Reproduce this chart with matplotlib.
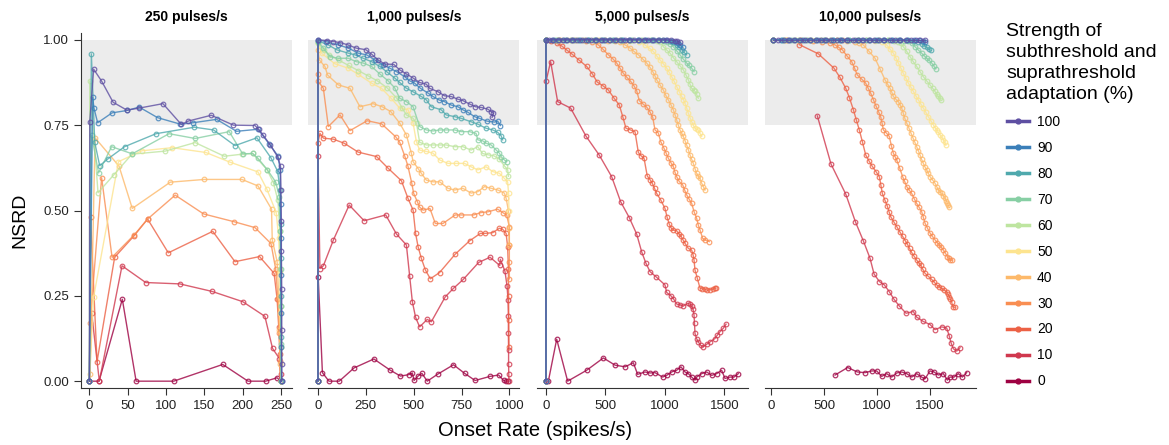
import matplotlib
matplotlib.use("Agg")
import matplotlib.pyplot as plt
from matplotlib.lines import Line2D

plt.rcParams['font.family'] = ['Liberation Sans', 'DejaVu Sans']

levels = [100, 90, 80, 70, 60, 50, 40, 30, 20, 10, 0]
level_colors = ['#5e4fa2', '#3b7fb9', '#4fa9ad', '#87cfa4', '#bee5a0', '#fde48f',
                '#fdb96a', '#f98e52', '#ec6145', '#d0384e', '#9e0142']
panel_titles = ["250 pulses/s", "1,000 pulses/s", "5,000 pulses/s", "10,000 pulses/s"]
panel_xticks = [[0, 50, 100, 150, 200, 250], [0, 250, 500, 750, 1000],
                [0, 500, 1000, 1500], [0, 500, 1000, 1500]]

# ---- 250 pulses/s : (onset rate, NSRD)
r250_100 = [(0, 0), (0.5, 0.76), (5.6, 0.914), (16, 0.879), (31, 0.817), (49, 0.794), (65, 0.80), (96, 0.813),
            (120, 0.752), (129, 0.762), (159, 0.779), (188, 0.75), (216, 0.749), (221, 0.738), (227, 0.72),
            (236, 0.692), (245.5, 0.658), (249.4, 0.631), (250, 0.56), (250.5, 0.47), (250.5, 0.38),
            (251, 0.27), (251, 0.15), (251, 0.05), (251, 0.0)]
r250_90 = [(0, 0), (4.3, 0.832), (6, 0.80), (10.8, 0.757), (29.6, 0.786), (49, 0.793), (65, 0.803), (89, 0.772),
           (118.6, 0.753), (135, 0.757), (166, 0.767), (192, 0.732), (220, 0.738), (235, 0.694), (246, 0.66),
           (249, 0.619), (249.5, 0.52), (250, 0.42), (250, 0.31), (250.5, 0.2), (250.5, 0.1), (251, 0.0)]
r250_80 = [(0, 0), (2.6, 0.959), (7, 0.70), (13.5, 0.631), (24, 0.651), (46, 0.687), (87, 0.725), (137, 0.744),
           (162, 0.736), (190, 0.69), (218.6, 0.713), (237, 0.654), (245.6, 0.615), (249, 0.56), (249.5, 0.46),
           (250, 0.36), (250, 0.25), (250.5, 0.13), (250.5, 0.0)]
r250_70 = [(0, 0), (3, 0.72), (12, 0.61), (29, 0.687), (56, 0.666), (104, 0.725), (138, 0.711), (182.5, 0.731),
           (200, 0.666), (213, 0.667), (220, 0.653), (232, 0.62), (243, 0.584), (248, 0.54), (249, 0.44),
           (249.5, 0.33), (250, 0.22), (250, 0.11), (250, 0.0)]
r250_60 = [(0, 0), (0.5, 0.88), (11.3, 0.552), (31.7, 0.604), (55.6, 0.665), (99, 0.674), (138, 0.699),
           (176, 0.659), (199.5, 0.665), (213, 0.667), (231.7, 0.62), (240, 0.582), (246, 0.53), (248.5, 0.44),
           (249, 0.33), (249.5, 0.22), (250, 0.1), (250, 0.0)]
r250_50 = [(0, 0), (5.6, 0.247), (38, 0.643), (68.6, 0.675), (108, 0.684), (152, 0.67), (183, 0.642),
           (220, 0.613), (231.7, 0.562), (243.8, 0.494), (247, 0.42), (248.5, 0.32), (249, 0.2), (249.5, 0.1),
           (250, 0.0)]
r250_40 = [(0, 0), (1, 0.02), (7.4, 0.713), (38.7, 0.63), (56, 0.506), (105.6, 0.583), (150, 0.591),
           (199, 0.591), (220, 0.572), (237.7, 0.504), (238.6, 0.415), (245, 0.35), (247, 0.25), (248, 0.15),
           (249, 0.05), (249.5, 0.0)]
r250_30 = [(0, 0), (1, 0.17), (16, 0.596), (29.6, 0.363), (58.7, 0.429), (76, 0.475), (112, 0.545), (149, 0.49),
           (189, 0.467), (216, 0.45), (237, 0.403), (243, 0.33), (246, 0.24), (248, 0.14), (249, 0.06),
           (249.5, 0.0)]
r250_20 = [(0, 0), (1.5, 0.48), (10, 0.057), (33, 0.363), (58, 0.425), (76, 0.475), (103, 0.376), (161, 0.439),
           (190, 0.35), (222, 0.365), (241, 0.316), (245, 0.24), (247, 0.16), (248.5, 0.08), (249.5, 0.0)]
r250_10 = [(0, 0), (3, 0.20), (13, 0.0), (42.6, 0.338), (73.5, 0.289), (118, 0.285), (160, 0.263), (200, 0.233),
           (229, 0.19), (239, 0.096), (248, 0.066), (249.5, 0.02), (250, 0.0)]
r250_0 = [(0, 0), (12.6, 0.0), (43, 0.24), (61, 0.0), (110, 0.0), (174, 0.049), (207, 0.0), (230, 0.0),
          (245, 0.01), (249.5, 0.0)]

# ---- 1,000 pulses/s
r1000_100 = [(0, 0), (0, 1.0), (48, 0.998), (80, 0.995), (115, 0.992), (158, 0.985), (198, 0.976), (250, 0.971),
             (280, 0.958), (314, 0.941), (349, 0.929), (396, 0.928), (427, 0.912), (462, 0.900), (497, 0.888),
             (531, 0.875), (566, 0.870), (583, 0.858), (627, 0.848), (661, 0.836), (696, 0.834), (731, 0.826),
             (757, 0.822), (792, 0.812), (823, 0.804), (852, 0.802), (887, 0.797), (905, 0.79), (917, 0.785),
             (910, 0.773)]
r1000_90 = [(0, 0), (0, 1.0), (40, 0.995), (106, 0.985), (158, 0.976), (210, 0.961), (254, 0.956), (297, 0.941),
            (340, 0.927), (375, 0.917), (410, 0.907), (453, 0.892), (479, 0.880), (505, 0.873), (535, 0.858),
            (575, 0.844), (601, 0.834), (632, 0.824), (661, 0.819), (696, 0.809), (731, 0.804), (757, 0.795),
            (783, 0.788), (818, 0.775), (844, 0.770), (882, 0.762), (922, 0.759), (939, 0.762), (953, 0.749)]
r1000_80 = [(0, 0), (0, 0.997), (54, 0.985), (97, 0.971), (158, 0.961), (193, 0.956), (236, 0.946), (280, 0.936),
            (323, 0.922), (358, 0.907), (401, 0.888), (427, 0.875), (462, 0.858), (496, 0.848), (540, 0.834),
            (566, 0.824), (592, 0.804), (644, 0.795), (670, 0.780), (714, 0.775), (748, 0.770), (800, 0.760),
            (835, 0.753), (878, 0.741), (913, 0.736), (939, 0.729), (957, 0.719), (965, 0.707)]
r1000_70 = [(0, 0), (0, 0.995), (28, 0.976), (62, 0.951), (106, 0.946), (158, 0.946), (201, 0.936), (236, 0.932),
            (280, 0.922), (323, 0.90), (366, 0.88), (400, 0.86), (427, 0.829), (462, 0.819), (497, 0.804),
            (531, 0.746), (566, 0.736), (601, 0.733), (636, 0.736), (670, 0.736), (714, 0.736), (748, 0.731),
            (792, 0.731), (826, 0.726), (835, 0.707), (861, 0.704), (878, 0.697), (905, 0.692), (931, 0.677),
            (948, 0.668), (957, 0.658), (974, 0.648), (986, 0.643)]
r1000_60 = [(0, 0), (0, 0.99), (30, 0.97), (60, 0.955), (110, 0.94), (160, 0.925), (210, 0.91), (260, 0.895),
            (310, 0.88), (360, 0.86), (410, 0.83), (440, 0.80), (462, 0.78), (497, 0.77), (515, 0.755),
            (531, 0.70), (566, 0.692), (601, 0.692), (636, 0.692), (670, 0.692), (714, 0.687), (757, 0.687),
            (800, 0.677), (835, 0.687), (860, 0.667), (890, 0.663), (920, 0.66), (948, 0.65), (975, 0.63),
            (991, 0.62), (995, 0.60)]
r1000_50 = [(0, 0), (0, 0.99), (20, 0.96), (88, 0.93), (158, 0.917), (210, 0.899), (280, 0.873), (332, 0.858),
            (380, 0.83), (427, 0.80), (471, 0.795), (497, 0.756), (514, 0.702), (531, 0.677), (566, 0.673),
            (601, 0.668), (636, 0.648), (679, 0.638), (722, 0.638), (766, 0.638), (800, 0.628), (835, 0.619),
            (878, 0.628), (913, 0.614), (948, 0.609), (974, 0.594), (991, 0.584), (996, 0.55), (998, 0.5)]
r1000_40 = [(0, 0), (0, 0.97), (7, 0.941), (36, 0.922), (50, 0.897), (106, 0.868), (167, 0.858), (219, 0.804),
            (288, 0.813), (335, 0.804), (380, 0.79), (427, 0.756), (462, 0.721), (488, 0.668), (497, 0.643),
            (523, 0.623), (540, 0.609), (566, 0.589), (601, 0.584), (636, 0.584), (679, 0.565), (714, 0.560),
            (757, 0.565), (800, 0.551), (835, 0.555), (870, 0.570), (905, 0.565), (940, 0.560), (974, 0.551),
            (983, 0.536), (995, 0.50), (998, 0.45), (999, 0.40)]
r1000_30 = [(0, 0), (0, 0.90), (2, 0.878), (28, 0.858), (54, 0.746), (115, 0.780), (167, 0.734), (257, 0.763),
            (332, 0.754), (406, 0.716), (427, 0.70), (453, 0.66), (470, 0.63), (490, 0.58), (500, 0.55),
            (519, 0.526), (531, 0.51), (549, 0.501), (585, 0.506), (613, 0.462), (653, 0.462), (717, 0.487),
            (748, 0.487), (813, 0.487), (852, 0.494), (887, 0.496), (939, 0.504), (965, 0.494), (986, 0.487),
            (1000, 0.452), (1000, 0.40), (1000, 0.35), (1000, 0.30)]
r1000_20 = [(0, 0), (0, 0.699), (10, 0.726), (28, 0.712), (80, 0.709), (137, 0.697), (210, 0.671), (306, 0.658),
            (366, 0.624), (436, 0.587), (470, 0.536), (497, 0.501), (510, 0.433), (523, 0.394), (540, 0.360),
            (561, 0.326), (587, 0.300), (635, 0.318), (717, 0.372), (792, 0.411), (849, 0.433), (873, 0.433),
            (913, 0.435), (948, 0.448), (965, 0.445), (983, 0.433), (991, 0.394), (995, 0.33), (996, 0.25),
            (997, 0.18), (998, 0.1)]
r1000_10 = [(0, 0), (0, 0.66), (10, 0.330), (28, 0.338), (80, 0.413), (163, 0.516), (241, 0.470), (354, 0.487),
            (410, 0.431), (462, 0.399), (479, 0.308), (493, 0.233), (510, 0.187), (531, 0.159), (571, 0.181),
            (592, 0.174), (665, 0.247), (708, 0.272), (759, 0.298), (840, 0.348), (899, 0.363), (950, 0.339),
            (953, 0.357), (977, 0.322), (988, 0.279), (993, 0.238), (995, 0.19), (995, 0.14), (996, 0.09),
            (996, 0.05), (997, 0.02), (998, 0.0)]
r1000_0 = [(0, 0), (1, 0.306), (23, 0.025), (57, 0.0), (111, 0.0), (189, 0.039), (292, 0.065), (378, 0.032),
           (431, 0.015), (474, 0.019), (493, 0.024), (502, 0.002), (523, 0.015), (543, 0.023), (571, 0.0),
           (627, 0.021), (708, 0.048), (766, 0.023), (821, 0.002), (899, 0.014), (944, 0.018), (970, 0.002),
           (984, 0.0), (995, 0.0)]

# ---- 5,000 pulses/s
r5000_100 = [(0, 0), (0, 1.0), (25, 1.0), (60, 1.0), (100, 1.0), (140, 1.0), (180, 1.0), (220, 1.0), (260, 1.0),
             (300, 1.0), (340, 1.0), (380, 1.0), (420, 1.0), (460, 1.0), (500, 1.0), (540, 1.0), (580, 1.0),
             (620, 1.0), (660, 1.0), (700, 1.0), (740, 1.0), (780, 1.0), (820, 1.0), (860, 1.0), (900, 1.0),
             (940, 1.0), (980, 1.0), (1020, 1.0), (1050, 0.999), (1080, 0.998), (1105, 0.996), (1126, 0.993)]
r5000_90 = [(0, 0), (0, 1.0), (50, 1.0), (110, 1.0), (170, 1.0), (230, 1.0), (290, 1.0), (350, 1.0), (410, 1.0),
            (470, 1.0), (530, 1.0), (590, 1.0), (650, 1.0), (710, 1.0), (770, 1.0), (830, 1.0), (890, 1.0),
            (950, 1.0), (1010, 1.0), (1060, 0.998), (1090, 0.995), (1110, 0.99), (1126, 0.985), (1150, 0.978)]
r5000_80 = [(0, 0), (0, 1.0), (70, 1.0), (140, 1.0), (210, 1.0), (280, 1.0), (350, 1.0), (420, 1.0), (490, 1.0),
            (560, 1.0), (630, 1.0), (700, 1.0), (770, 1.0), (840, 1.0), (910, 1.0), (980, 1.0), (1040, 0.998),
            (1070, 0.993), (1098, 0.985), (1120, 0.978), (1140, 0.971), (1160, 0.963), (1182, 0.956)]
r5000_70 = [(0, 0), (0, 1.0), (80, 1.0), (160, 1.0), (240, 1.0), (320, 1.0), (400, 1.0), (480, 1.0), (560, 1.0),
            (640, 1.0), (720, 1.0), (800, 1.0), (880, 1.0), (950, 0.999), (990, 0.998), (1020, 0.995),
            (1045, 0.988), (1070, 0.98), (1098, 0.968), (1126, 0.956), (1150, 0.945), (1182, 0.932),
            (1200, 0.925), (1224, 0.917), (1244, 0.907)]
r5000_60 = [(0, 0), (0, 1.0), (90, 1.0), (180, 1.0), (270, 1.0), (360, 1.0), (450, 1.0), (540, 1.0), (630, 1.0),
            (720, 1.0), (810, 1.0), (880, 0.999), (930, 0.998), (960, 0.995), (986, 0.98), (1015, 0.97),
            (1042, 0.961), (1070, 0.948), (1098, 0.936), (1126, 0.924), (1154, 0.912), (1175, 0.898),
            (1196, 0.883), (1210, 0.87), (1224, 0.858), (1240, 0.853), (1252, 0.849), (1265, 0.84), (1280, 0.829)]
r5000_50 = [(0, 0), (0, 1.0), (100, 1.0), (200, 1.0), (300, 1.0), (400, 1.0), (500, 1.0), (600, 1.0), (700, 0.998),
            (780, 0.994), (832, 0.985), (870, 0.975), (902, 0.966), (930, 0.953), (958, 0.941), (986, 0.93),
            (1014, 0.917), (1035, 0.905), (1056, 0.892), (1078, 0.878), (1098, 0.863), (1120, 0.848),
            (1140, 0.834), (1155, 0.825), (1168, 0.814), (1182, 0.80), (1196, 0.785), (1210, 0.772),
            (1224, 0.760), (1238, 0.75), (1252, 0.741), (1266, 0.738), (1280, 0.736), (1294, 0.726), (1308, 0.717)]
r5000_40 = [(0, 0), (0, 1.0), (110, 1.0), (220, 1.0), (330, 1.0), (440, 1.0), (520, 0.998), (580, 0.996),
            (622, 0.993), (665, 0.985), (706, 0.976), (740, 0.966), (776, 0.956), (812, 0.944), (846, 0.932),
            (872, 0.92), (897, 0.907), (915, 0.895), (930, 0.883), (958, 0.868), (986, 0.853), (1006, 0.838),
            (1028, 0.824), (1050, 0.81), (1070, 0.795), (1085, 0.78), (1098, 0.765), (1112, 0.75), (1126, 0.736),
            (1140, 0.726), (1154, 0.717), (1168, 0.705), (1182, 0.692), (1196, 0.678), (1210, 0.663),
            (1224, 0.65), (1238, 0.638), (1252, 0.623), (1266, 0.609), (1280, 0.60), (1294, 0.594),
            (1308, 0.58), (1322, 0.570), (1336, 0.560)]
r5000_30 = [(0, 0), (0, 1.0), (120, 1.0), (240, 0.999), (340, 0.997), (390, 0.993), (440, 0.985), (480, 0.972),
            (524, 0.956), (560, 0.945), (594, 0.932), (620, 0.918), (650, 0.902), (680, 0.89), (712, 0.878),
            (740, 0.865), (762, 0.851), (784, 0.822), (815, 0.812), (846, 0.803), (872, 0.79), (897, 0.773),
            (916, 0.736), (944, 0.727), (964, 0.702), (992, 0.682), (1010, 0.668), (1028, 0.653), (1050, 0.64),
            (1070, 0.629), (1084, 0.612), (1098, 0.599), (1120, 0.585), (1149, 0.575), (1165, 0.56),
            (1182, 0.546), (1200, 0.535), (1224, 0.521), (1244, 0.497), (1266, 0.477), (1280, 0.457),
            (1294, 0.443), (1317, 0.418), (1336, 0.414), (1372, 0.409)]
r5000_20 = [(0, 0), (0, 1.0), (40, 0.997), (90, 0.99), (132, 0.982), (175, 0.97), (216, 0.959), (280, 0.94),
            (342, 0.922), (390, 0.9), (431, 0.876), (480, 0.865), (524, 0.853), (570, 0.83), (616, 0.809),
            (645, 0.775), (672, 0.741), (710, 0.736), (748, 0.731), (776, 0.670), (800, 0.66), (824, 0.653),
            (851, 0.601), (875, 0.59), (893, 0.580), (912, 0.565), (930, 0.550), (964, 0.531), (1000, 0.506),
            (1018, 0.48), (1036, 0.460), (1050, 0.45), (1064, 0.443), (1098, 0.441), (1116, 0.432),
            (1134, 0.425), (1150, 0.415), (1168, 0.404), (1196, 0.389), (1224, 0.384), (1236, 0.37),
            (1244, 0.355), (1252, 0.326), (1272, 0.301), (1294, 0.273), (1315, 0.270), (1336, 0.270),
            (1357, 0.266), (1378, 0.268), (1400, 0.27), (1420, 0.273), (1429, 0.273)]
r5000_10 = [(0, 0), (0, 0.878), (39, 0.936), (98, 0.819), (207, 0.80), (336, 0.718), (448, 0.662), (552, 0.599),
            (627, 0.526), (700, 0.479), (762, 0.431), (804, 0.379), (838, 0.347), (874, 0.321), (924, 0.306),
            (1000, 0.282), (1014, 0.260), (1050, 0.25), (1070, 0.242), (1098, 0.226), (1125, 0.224),
            (1154, 0.22), (1190, 0.228), (1210, 0.226), (1224, 0.22), (1236, 0.21), (1244, 0.194), (1248, 0.17),
            (1252, 0.140), (1265, 0.125), (1280, 0.115), (1300, 0.105), (1322, 0.101), (1350, 0.108),
            (1378, 0.115), (1420, 0.125), (1440, 0.135), (1462, 0.145), (1490, 0.155), (1513, 0.167)]
r5000_0 = [(0, 0), (20, 0.0), (90, 0.123), (182, 0.0), (342, 0.032), (482, 0.068), (580, 0.047), (664, 0.042),
           (734, 0.054), (770, 0.020), (832, 0.027), (874, 0.024), (916, 0.025), (980, 0.012), (1014, 0.017),
           (1056, 0.027), (1098, 0.032), (1134, 0.042), (1168, 0.027), (1196, 0.022), (1224, 0.012),
           (1252, 0.003), (1266, 0.012), (1308, 0.022), (1350, 0.027), (1392, 0.017), (1434, 0.022),
           (1476, 0.032), (1504, 0.008), (1546, 0.012), (1580, 0.012), (1616, 0.022)]

# ---- 10,000 pulses/s
r10000_100 = [(22, 1.0), (70, 1.0), (120, 1.0), (170, 1.0), (220, 1.0), (270, 1.0), (320, 1.0), (370, 1.0),
              (420, 1.0), (470, 1.0), (520, 1.0), (570, 1.0), (620, 1.0), (670, 1.0), (720, 1.0), (770, 1.0),
              (820, 1.0), (870, 1.0), (920, 1.0), (970, 1.0), (1020, 1.0), (1070, 1.0), (1120, 1.0), (1170, 1.0),
              (1220, 1.0), (1270, 1.0), (1320, 1.0), (1370, 1.0), (1410, 1.0), (1453, 1.0)]
r10000_90 = [(22, 1.0), (90, 1.0), (160, 1.0), (230, 1.0), (300, 1.0), (370, 1.0), (440, 1.0), (510, 1.0),
             (580, 1.0), (650, 1.0), (720, 1.0), (790, 1.0), (860, 1.0), (930, 1.0), (1000, 1.0), (1070, 1.0),
             (1140, 1.0), (1210, 1.0), (1280, 1.0), (1350, 0.999), (1400, 0.999), (1430, 0.998), (1453, 0.994)]
r10000_80 = [(22, 1.0), (100, 1.0), (180, 1.0), (260, 1.0), (340, 1.0), (420, 1.0), (500, 1.0), (580, 1.0),
             (660, 1.0), (740, 1.0), (820, 1.0), (900, 1.0), (980, 1.0), (1060, 1.0), (1140, 1.0), (1220, 1.0),
             (1290, 0.999), (1350, 0.998), (1390, 0.995), (1421, 0.988), (1445, 0.983), (1468, 0.978),
             (1490, 0.973), (1509, 0.969)]
r10000_70 = [(22, 1.0), (110, 1.0), (200, 1.0), (290, 1.0), (380, 1.0), (470, 1.0), (560, 1.0), (650, 1.0),
             (740, 1.0), (830, 1.0), (920, 1.0), (1010, 1.0), (1100, 1.0), (1190, 1.0), (1250, 0.998),
             (1290, 0.996), (1330, 0.99), (1358, 0.980), (1390, 0.97), (1421, 0.961), (1445, 0.953),
             (1468, 0.946), (1492, 0.94), (1516, 0.932), (1535, 0.924), (1554, 0.915)]
r10000_60 = [(22, 1.0), (120, 1.0), (220, 1.0), (320, 1.0), (420, 1.0), (520, 1.0), (620, 1.0), (720, 1.0),
             (820, 1.0), (920, 1.0), (1020, 1.0), (1100, 0.999), (1160, 0.997), (1200, 0.995), (1225, 0.99),
             (1248, 0.980), (1280, 0.966), (1311, 0.951), (1340, 0.937), (1374, 0.922), (1405, 0.907),
             (1437, 0.892), (1468, 0.88), (1500, 0.868), (1525, 0.858), (1547, 0.849), (1565, 0.84),
             (1579, 0.834), (1592, 0.83), (1604, 0.824)]
r10000_50 = [(22, 1.0), (130, 1.0), (240, 1.0), (350, 1.0), (460, 1.0), (570, 1.0), (680, 1.0), (790, 1.0),
             (900, 0.999), (980, 0.997), (1050, 0.993), (1091, 0.985), (1122, 0.973), (1154, 0.961),
             (1178, 0.947), (1201, 0.932), (1225, 0.917), (1248, 0.902), (1272, 0.888), (1296, 0.873),
             (1320, 0.861), (1343, 0.849), (1366, 0.836), (1390, 0.824), (1413, 0.812), (1437, 0.800),
             (1460, 0.788), (1484, 0.775), (1508, 0.763), (1531, 0.751), (1547, 0.743), (1563, 0.736),
             (1579, 0.729), (1594, 0.722), (1610, 0.715), (1626, 0.707), (1638, 0.70), (1648, 0.692)]
r10000_40 = [(22, 1.0), (140, 1.0), (260, 1.0), (380, 1.0), (500, 1.0), (620, 0.999), (720, 0.997), (790, 0.993),
             (830, 0.99), (871, 0.985), (925, 0.966), (981, 0.946), (1028, 0.915), (1075, 0.883), (1100, 0.87),
             (1123, 0.858), (1140, 0.846), (1154, 0.834), (1178, 0.826), (1201, 0.819), (1217, 0.81),
             (1233, 0.800), (1247, 0.786), (1261, 0.771), (1280, 0.756), (1302, 0.741), (1320, 0.727),
             (1340, 0.712), (1357, 0.70), (1374, 0.687), (1390, 0.675), (1405, 0.663), (1420, 0.65),
             (1437, 0.638), (1452, 0.628), (1468, 0.619), (1484, 0.609), (1500, 0.599), (1523, 0.59),
             (1547, 0.580), (1563, 0.57), (1579, 0.560), (1594, 0.555), (1610, 0.550), (1626, 0.543),
             (1642, 0.536), (1653, 0.528), (1664, 0.521), (1673, 0.515), (1682, 0.509)]
r10000_30 = [(22, 1.0), (150, 1.0), (280, 1.0), (400, 0.998), (480, 0.995), (560, 0.99), (604, 0.985),
             (638, 0.978), (672, 0.971), (716, 0.953), (761, 0.936), (788, 0.917), (814, 0.897), (855, 0.885),
             (893, 0.873), (917, 0.858), (940, 0.844), (965, 0.825), (991, 0.806), (1014, 0.79), (1036, 0.773),
             (1048, 0.755), (1060, 0.736), (1088, 0.727), (1116, 0.717), (1135, 0.69), (1154, 0.668),
             (1170, 0.658), (1186, 0.648), (1214, 0.624), (1242, 0.599), (1261, 0.585), (1280, 0.570),
             (1303, 0.56), (1327, 0.550), (1350, 0.535), (1374, 0.521), (1398, 0.509), (1421, 0.497),
             (1437, 0.48), (1453, 0.463), (1476, 0.448), (1500, 0.434), (1523, 0.424), (1547, 0.414),
             (1568, 0.406), (1588, 0.399), (1607, 0.392), (1626, 0.384), (1645, 0.375), (1664, 0.365),
             (1677, 0.36), (1689, 0.355), (1708, 0.354)]
r10000_20 = [(267, 0.986), (446, 0.959), (594, 0.917), (650, 0.89), (705, 0.858), (740, 0.83), (777, 0.795),
             (805, 0.765), (833, 0.736), (863, 0.70), (893, 0.663), (925, 0.645), (956, 0.629), (990, 0.614),
             (1022, 0.599), (1036, 0.575), (1050, 0.550), (1075, 0.53), (1097, 0.513), (1113, 0.497),
             (1129, 0.482), (1158, 0.467), (1186, 0.453), (1214, 0.438), (1242, 0.424), (1265, 0.412),
             (1287, 0.401), (1307, 0.389), (1327, 0.377), (1350, 0.366), (1374, 0.355), (1393, 0.347),
             (1412, 0.340), (1432, 0.328), (1453, 0.316), (1484, 0.307), (1516, 0.298), (1540, 0.29),
             (1563, 0.282), (1587, 0.277), (1610, 0.272), (1633, 0.267), (1657, 0.262), (1670, 0.255),
             (1682, 0.248), (1693, 0.24), (1704, 0.233), (1714, 0.218), (1735, 0.216)]
r10000_10 = [(437, 0.777), (566, 0.636), (705, 0.548), (796, 0.467), (871, 0.411), (934, 0.360), (972, 0.314),
             (1022, 0.292), (1069, 0.282), (1116, 0.262), (1160, 0.240), (1211, 0.220), (1274, 0.199),
             (1343, 0.204), (1373, 0.188), (1436, 0.175), (1500, 0.166), (1547, 0.151), (1610, 0.159),
             (1657, 0.156), (1682, 0.132), (1698, 0.113), (1720, 0.095), (1752, 0.088), (1783, 0.098)]
r10000_0 = [(604, 0.018), (723, 0.040), (814, 0.027), (887, 0.025), (950, 0.030), (997, 0.030), (1044, 0.014),
            (1091, 0.022), (1138, 0.012), (1186, 0.024), (1233, 0.027), (1280, 0.022), (1327, 0.012),
            (1374, 0.022), (1421, 0.012), (1453, 0.007), (1500, 0.030), (1538, 0.027), (1579, 0.018),
            (1626, 0.022), (1664, 0.003), (1689, 0.012), (1727, 0.012), (1767, 0.022), (1805, 0.012),
            (1846, 0.025)]

panel_series = [
    [r250_100, r250_90, r250_80, r250_70, r250_60, r250_50, r250_40, r250_30, r250_20, r250_10, r250_0],
    [r1000_100, r1000_90, r1000_80, r1000_70, r1000_60, r1000_50, r1000_40, r1000_30, r1000_20, r1000_10, r1000_0],
    [r5000_100, r5000_90, r5000_80, r5000_70, r5000_60, r5000_50, r5000_40, r5000_30, r5000_20, r5000_10, r5000_0],
    [r10000_100, r10000_90, r10000_80, r10000_70, r10000_60, r10000_50, r10000_40, r10000_30, r10000_20,
     r10000_10, r10000_0],
]

W, H = 1169, 445
fig = plt.figure(figsize=(W / 100, H / 100), dpi=100)

lefts = [80.7, 308.3, 536.7, 765]
xlims = [(-11.3, 264), (-50.7, 1052), (-78, 1695), (-57, 1934)]
axes = []
for i in range(4):
    ax = fig.add_axes([lefts[i] / W, 1 - 388 / H, 211 / W, 355 / H])
    axes.append(ax)
    ax.axhspan(0.75, 1.0, color='#ececec', zorder=0, lw=0)
    # draw lowest strength first so strong adaptation sits on top
    for lev, col, pts in reversed(list(zip(levels, level_colors, panel_series[i]))):
        xs = [p[0] for p in pts]
        ys = [p[1] for p in pts]
        ax.plot(xs, ys, color=col, lw=1.0, alpha=0.8, marker='o', ms=3.3,
                mfc='none', mew=0.9, zorder=2)
    ax.set_xlim(*xlims[i])
    ax.set_ylim(-0.02, 1.02)
    ax.set_xticks(panel_xticks[i])
    ax.set_title(panel_titles[i], fontsize=10, fontweight='bold', pad=9)
    for s in ['top', 'right']:
        ax.spines[s].set_visible(False)
    ax.tick_params(axis='both', length=5, width=0.8, labelsize=9.5, colors='#333333',
                   labelcolor='#222222')
    if i == 0:
        ax.set_yticks([0, 0.25, 0.5, 0.75, 1.0])
        ax.set_yticklabels(['0.00', '0.25', '0.50', '0.75', '1.00'])
    else:
        ax.spines['left'].set_visible(False)
        ax.set_yticks([])
    for s in ['left', 'bottom']:
        ax.spines[s].set_color('#333333')
        ax.spines[s].set_linewidth(0.8)

fig.text(20 / W, 1 - 220 / H, 'NSRD', rotation=90, fontsize=14, ha='center', va='center')
fig.text(535 / W, 1 - 431 / H, 'Onset Rate (spikes/s)', fontsize=14.5, ha='center', va='center')

handles = [Line2D([0], [0], color=c, lw=2.5, marker='o', ms=3.5) for c in level_colors]
leg = fig.legend(handles, [str(l) for l in levels], loc='upper left',
                 bbox_to_anchor=(994 / W, 1 - 10 / H), frameon=False,
                 title='Strength of\nsubthreshold and\nsuprathreshold\nadaptation (%)',
                 title_fontsize=14, fontsize=10, alignment='left', handlelength=1.6,
                 handletextpad=0.6, labelspacing=0.86)
leg.get_title().set_linespacing(1.32)

fig.savefig('out.png', dpi=100)
